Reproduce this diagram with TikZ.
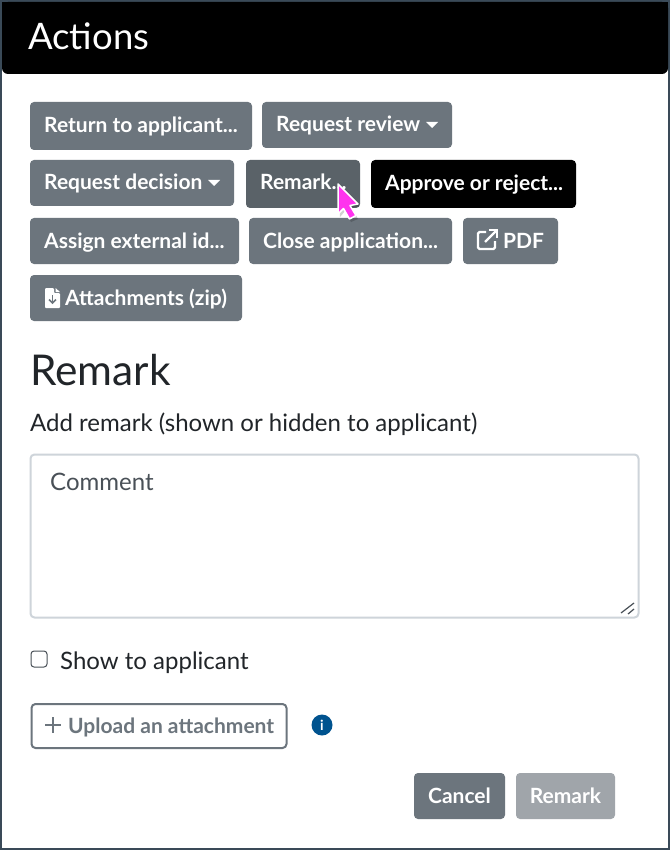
\documentclass[tikz,border=0pt]{standalone}
\usepackage{fontspec}
\setmainfont{Lato}
\definecolor{frameC}{HTML}{3A4A58}
\definecolor{btnC}{HTML}{6C757D}
\definecolor{btnD}{HTML}{5A6268}
\definecolor{btnL}{HTML}{A0A5AA}
\definecolor{inkC}{HTML}{212529}
\definecolor{fieldC}{HTML}{CED4DA}
\definecolor{phC}{HTML}{495057}
\definecolor{infoC}{HTML}{00538F}
\definecolor{cursorC}{HTML}{FF33EE}
\newcommand{\fs}[1]{\fontsize{#1}{#1}\selectfont}
\tikzset{
  x=1pt,y=-1pt,
  btn/.style={fill=btnC,text=white,rounded corners=4pt,inner sep=0pt,font=\fs{21}\bfseries,anchor=center},
  plain/.style={inner sep=0pt,anchor=base west,text=inkC},
  btntext/.style={plain,text=white,font=\fs{21}\bfseries},
}
\begin{document}
\begin{tikzpicture}
\useasboundingbox (0,0) rectangle (670,850);
\fill[white] (0,0) rectangle (670,850);
\draw[frameC,line width=2pt] (1,1) rectangle (669,849);
% header
\fill[black,rounded corners=6pt] (2,2) -- (2,74) -- (668,74) -- (668,2) -- cycle;
\fill[black] (2,2) rectangle (668,30);
\node[plain,text=white,font=\fs{36.5}] (title) at (28,50) {Actions};
% buttons
\node[btn,minimum width=222pt,minimum height=48pt] (ret) at (141,126) {};
\node[btntext] (rett) at (44,133) {Return to applicant...};
\node[btn,minimum width=190pt,minimum height=46pt] (rev) at (357,125) {};
\node[btntext] (revt) at (276,132) {Request review};
\fill[white] (426,122) -- (438,122) -- (432,128) -- cycle;
\node[btn,minimum width=204pt,minimum height=46pt] (dec) at (132,183) {};
\node[btntext] (dect) at (44,190) {Request decision};
\fill[white] (208,180) -- (220,180) -- (214,186) -- cycle;
\node[btn,fill=btnD,minimum width=114pt,minimum height=48pt] (rem) at (303,184) {};
\node[btntext] (remt) at (260,190) {Remark...};
\node[btn,fill=black,minimum width=205pt,minimum height=48pt] (app) at (473.5,184) {};
\node[btntext] (appt) at (385,191) {Approve or reject...};
\node[btn,minimum width=209pt,minimum height=46pt] (ass) at (134.5,241) {};
\node[btntext] (asst) at (44,248) {Assign external id...};
\node[btn,minimum width=203pt,minimum height=46pt] (clo) at (350.5,241) {};
\node[btntext] (clot) at (263,248) {Close application...};
\node[btn,minimum width=95pt,minimum height=46pt] (pdf) at (510.5,241) {};
\node[btntext] (pdft) at (503,248) {PDF};
% external link icon
\draw[white,line width=2.2pt,rounded corners=1.5pt] (486,232) -- (478,232) -- (478,249) -- (495,249) -- (495,241);
\draw[white,line width=2.2pt] (485,242) -- (496,231);
\draw[white,line width=2.2pt] (489,230) -- (497,230) -- (497,238);
\node[btn,minimum width=212pt,minimum height=46pt] (att) at (136,298) {};
\node[btntext] (attt) at (65,305) {Attachments (zip)};
% file download icon
\fill[white,rounded corners=1pt] (45,288) -- (54,288) -- (54,293) -- (60,293) -- (60,308) -- (45,308) -- cycle;
\fill[white] (55.5,288) -- (60,292) -- (55.5,292) -- cycle;
\draw[btnC,line width=1.6pt] (52.5,295) -- (52.5,302);
\draw[btnC,line width=1.6pt] (49,299.5) -- (52.5,303) -- (56,299.5);
% form
\node[plain,font=\fs{42.4}] (head) at (30,385) {Remark};
\node[plain,font=\fs{24}] (lab) at (30,431) {Add remark (shown or hidden to applicant)};
\node[draw=fieldC,line width=2pt,rounded corners=4pt,minimum width=608pt,minimum height=163pt,inner sep=0pt] (area) at (334.5,536) {};
\node[plain,text=phC,font=\fs{24}] (ph) at (50,490) {Comment};
\draw[phC,line width=1.2pt] (621,613) -- (634,603);
\draw[phC,line width=1.2pt] (628,614) -- (634,609);
\node[draw=phC,line width=1pt,rounded corners=3pt,minimum width=16pt,minimum height=16pt,inner sep=0pt] (chk) at (39,659) {};
\node[plain,font=\fs{24}] (show) at (60,669) {Show to applicant};
\node[draw=btnC,line width=2pt,fill=white,rounded corners=4pt,minimum width=255pt,minimum height=44pt,inner sep=0pt] (upl) at (159,726) {};
\node[plain,text=btnC,font=\fs{21}\bfseries] (uplt) at (68,733) {Upload an attachment};
\draw[btnC,line width=2pt] (45,725) -- (61,725) (53,717) -- (53,733);
\node[circle,fill=infoC,minimum size=21pt,inner sep=0pt,text=white,font=\fs{14}\bfseries] (info) at (322,725) {i};
\node[btn,minimum width=91pt,minimum height=46pt] (can) at (459.5,796) {Cancel};
\node[btn,fill=btnL,minimum width=99pt,minimum height=46pt] (sub) at (565.5,796) {Remark};
% cursor
\fill[black,opacity=.18] (339,186) -- (360,206) -- (352,208) -- (358,219) -- (351,222) -- (345,211) -- (340,217) -- cycle;
\draw[white,line width=1.5pt,fill=cursorC,line join=round] (338,184) -- (358,204) -- (350,205.5) -- (356,215.5) -- (349.5,219) -- (343.5,208.5) -- (338,214) -- cycle;
\end{tikzpicture}
\end{document}
